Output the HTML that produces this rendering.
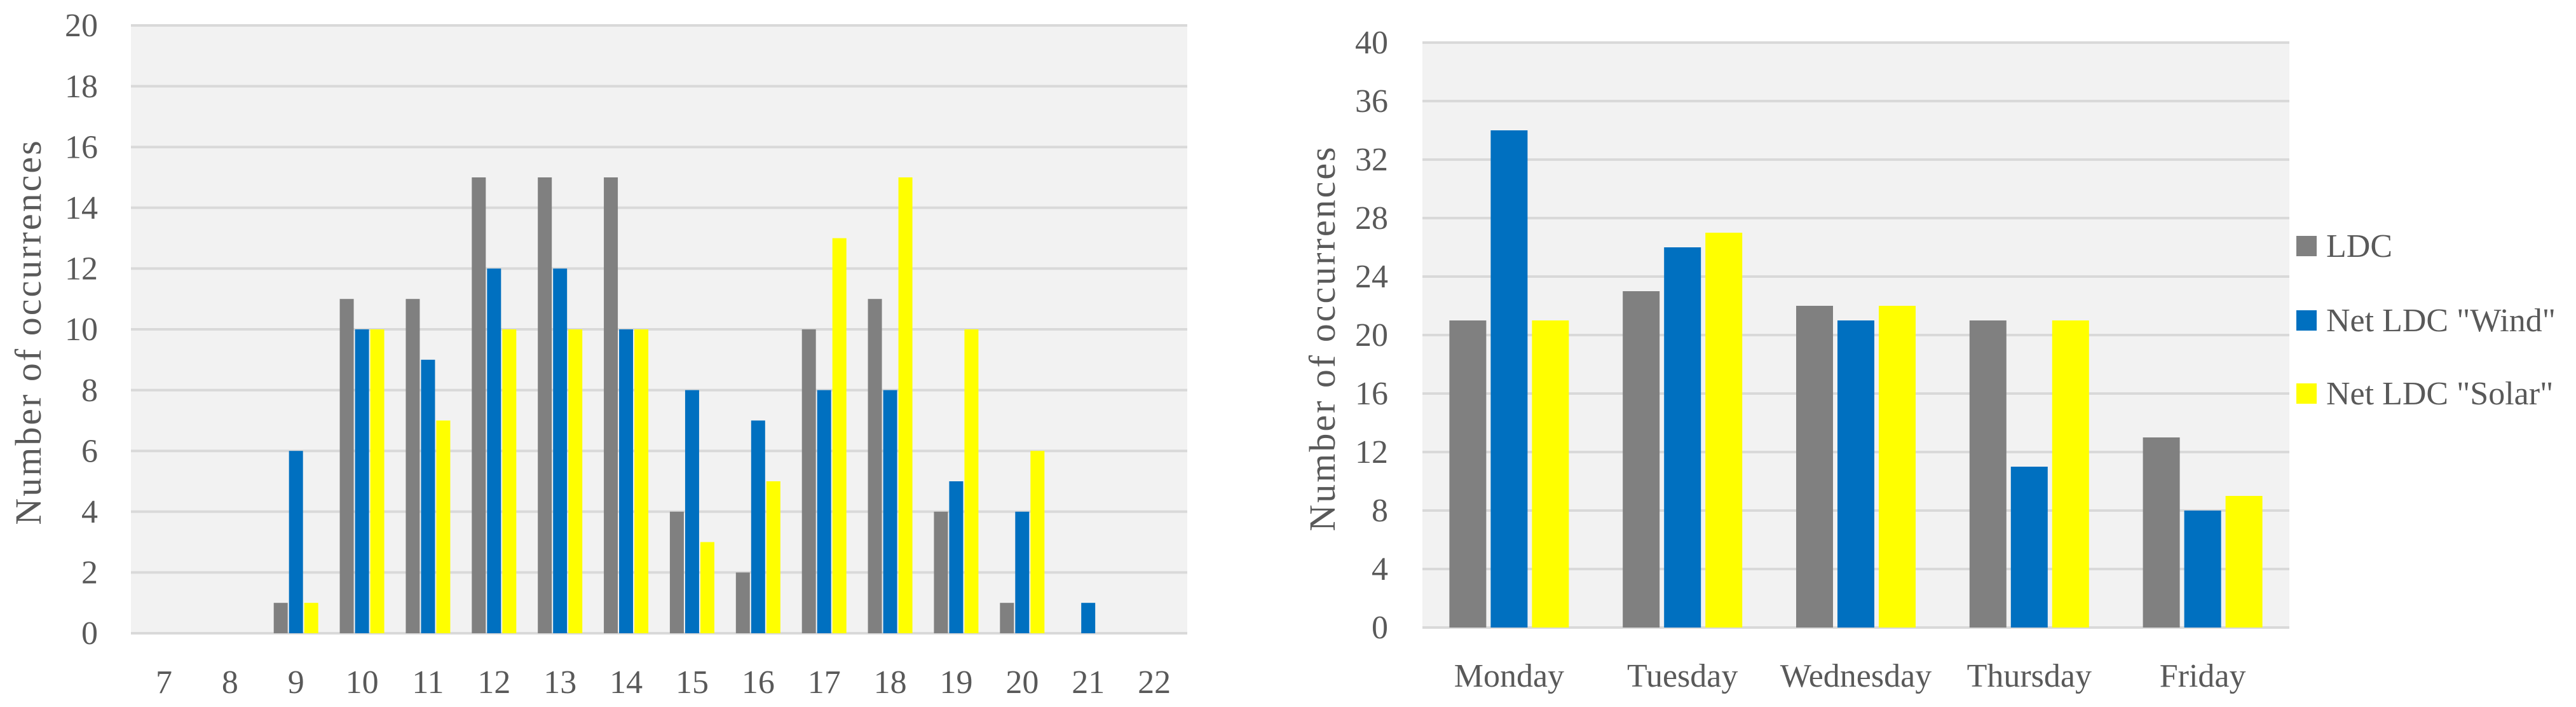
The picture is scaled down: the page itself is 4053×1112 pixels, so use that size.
<!DOCTYPE html>
<html><head><meta charset="utf-8">
<style>
html,body{margin:0;padding:0;background:#fff;}
svg text{font-family:"Liberation Serif",serif;fill:#595959;}
</style></head>
<body>
<svg id="chart" width="4053" height="1107" xmlns="http://www.w3.org/2000/svg">
<g id="left"></g>
<g id="right"></g>
</svg>
<script>
const hourCats = ["7","8","9","10","11","12","13","14","15","16","17","18","19","20","21","22"];
const hourLDC =   [0,0,1,11,11,15,15,15,4,2,10,11,4,1,0,0];
const hourWind =  [0,0,6,10,9,12,12,10,8,7,8,8,5,4,1,0];
const hourSolar = [0,0,1,10,7,10,10,10,3,5,13,15,10,6,0,0];
const hourTicks = [0,2,4,6,8,10,12,14,16,18,20];

const dayCats = ["Monday","Tuesday","Wednesday","Thursday","Friday"];
const dayLDC =   [21,23,22,21,13];
const dayWind =  [34,26,21,11,8];
const daySolar = [21,27,22,21,9];
const dayTicks = [0,4,8,12,16,20,24,28,32,36,40];

const seriesNames = ["LDC","Net LDC \"Wind\"","Net LDC \"Solar\""];
const colors = ["#808080","#0070c0","#ffff00"];
const NS = "http://www.w3.org/2000/svg";

function mk(parent, tag, attrs, text){
  const e = document.createElementNS(NS, tag);
  for (const k in attrs) e.setAttribute(k, attrs[k]);
  if (text !== undefined) e.textContent = text;
  parent.appendChild(e);
  return e;
}

function drawChart(g, o){
  const {left,right,top,bottom,max,cats,series,ticks,barW,pitch,fs,labRight,xLabY,titleX,titleY,prefix} = o;
  const bg = mk(g,'rect',{x:left,y:top,width:right-left,height:bottom-top,fill:'#f2f2f2'});
  
  
  const y = v => bottom - v/max*(bottom-top);
  const cw = (right-left)/cats.length;
  const x = i => left + cw*(i+0.5);
  ticks.forEach(t=>{
    const ln = mk(g,'line',{x1:left,x2:right,y1:y(t),y2:y(t),stroke:'#d9d9d9','stroke-width':4});
    
    
    const tx = mk(g,'text',{x:labRight,y:y(t)+fs*0.33,'text-anchor':'end','font-size':fs},String(t));
    
    
  });
  cats.forEach((c,i)=>{
    series.forEach((s,j)=>{
      const v = s[i];
      if (v<=0) return;
      const cx = x(i) + (j-1)*pitch;
      const r = mk(g,'rect',{x:cx-barW/2,y:y(v),width:barW,height:bottom-y(v),fill:colors[j]});
      
      
    });
    const tx = mk(g,'text',{x:x(i),y:xLabY,'text-anchor':'middle','font-size':fs},c);
    
    
  });
  const ti = mk(g,'text',{x:titleX,y:titleY,'text-anchor':'middle','font-size':58,transform:`rotate(-90 ${titleX} ${titleY})`,'letter-spacing':'3'},'Number of occurrences');
  
  
}

drawChart(document.getElementById('left'),{
  left:206,right:1868,top:40,bottom:996,max:20,cats:hourCats,
  series:[hourLDC,hourWind,hourSolar],ticks:hourTicks,barW:22,pitch:24,fs:52,
  labRight:154,xLabY:1090,titleX:64,titleY:522,prefix:'hour'
});
drawChart(document.getElementById('right'),{
  left:2238,right:3602,top:67,bottom:987,max:40,cats:dayCats,
  series:[dayLDC,dayWind,daySolar],ticks:dayTicks,barW:58,pitch:65,fs:52,
  labRight:2184,xLabY:1080,titleX:2100,titleY:532,prefix:'day'
});

const lg = document.getElementById('right');
const legY = [387,504,619];
seriesNames.forEach((n,j)=>{
  const sq = mk(lg,'rect',{x:3613,y:legY[j]-16,width:32,height:32,fill:colors[j]});
  
  
  const t = mk(lg,'text',{x:3660,y:legY[j]+17,'font-size':52},n);
  
  
});
</script>
</body></html>
